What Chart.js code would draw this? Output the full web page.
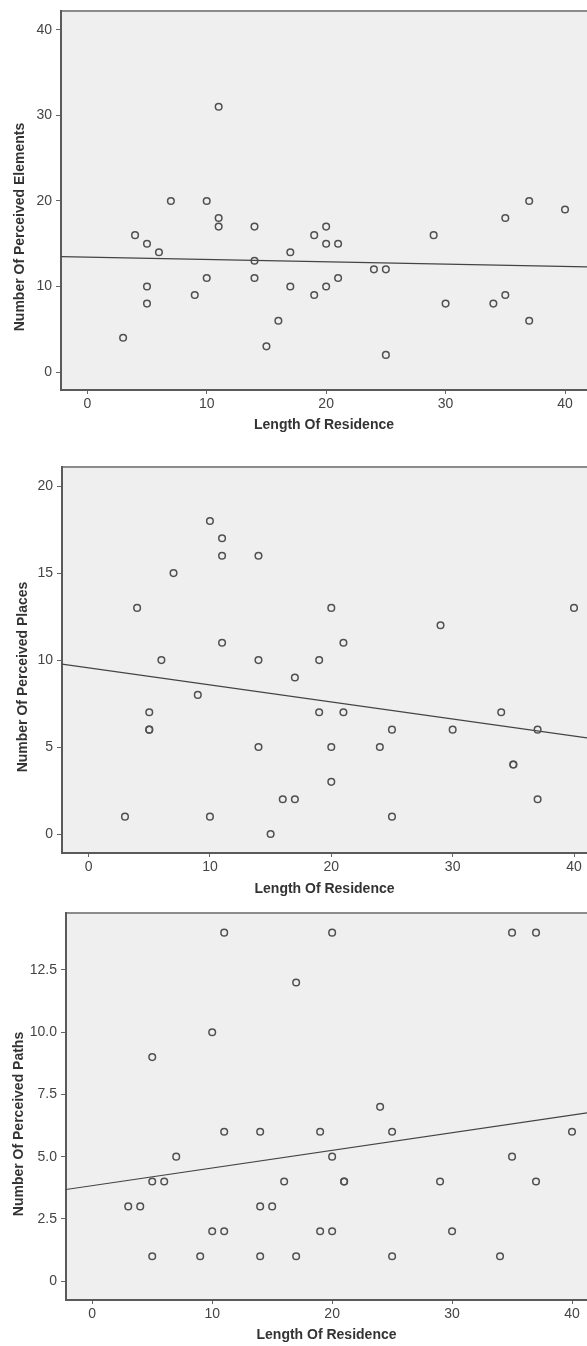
<!DOCTYPE html>
<html>
<head>
<meta charset="utf-8">
<script src="https://cdn.jsdelivr.net/npm/chart.js@4/dist/chart.umd.min.js"></script>
<style>
  html, body { margin: 0; padding: 0; background: #fff; }
  body { width: 587px; height: 1346px; position: relative; overflow: hidden; }
  canvas { position: absolute; left: 0; }
</style>
</head>
<body>
<canvas id="c1" width="587" height="440" style="top:0px"></canvas>
<canvas id="c2" width="587" height="460" style="top:440px"></canvas>
<canvas id="c3" width="587" height="446" style="top:900px"></canvas>
<script>
// ---- data ----
const lengthOfResidence = [3,4,5,5,5,6,7,9,10,10,11,11,11,14,14,14,15,16,17,17,19,19,20,20,20,21,21,24,25,25,29,30,34,35,35,37,37,40];
const perceivedElements = [4,16,15,10,8,14,20,9,20,11,31,18,17,17,13,11,3,6,14,10,16,9,17,15,10,15,11,12,12,2,16,8,8,18,9,20,6,19];
const perceivedPlaces   = [1,13,7,6,6,10,15,8,18,1,17,16,11,16,10,5,0,2,2,9,10,7,13,5,3,11,7,5,6,1,12,6,7,4,4,6,2,13];
const perceivedPaths    = [3,3,9,4,1,4,5,1,10,2,14,6,2,6,3,1,3,4,12,1,6,2,14,5,2,4,4,7,6,1,4,2,1,14,5,14,4,6];

// fit lines (end points)
const fitElementsX = [-2.2, 41.84];
const fitElementsY = [13.5, 12.3];
const fitPlacesX   = [-2.19, 41.07];
const fitPlacesY   = [9.77, 5.53];
const fitPathsX    = [-2.19, 41.25];
const fitPathsY    = [3.68, 6.76];

// ticks
const xTickValues = [0, 10, 20, 30, 40];
const xTickLabels = ['0', '10', '20', '30', '40'];
const elementsTickValues = [0, 10, 20, 30, 40];
const elementsTickLabels = ['0', '10', '20', '30', '40'];
const placesTickValues = [0, 5, 10, 15, 20];
const placesTickLabels = ['0', '5', '10', '15', '20'];
const pathsTickValues = [0, 2.5, 5, 7.5, 10, 12.5];
const pathsTickLabels = ['0', '2.5', '5.0', '7.5', '10.0', '12.5'];

const xTitle = 'Length Of Residence';

// ---- drawing ----
const FONT = "'Liberation Sans', Arial, Helvetica, sans-serif";

const framePlugin = {
  id: 'frame',
  beforeDraw(chart) {
    const { ctx, chartArea: a } = chart;
    ctx.save();
    ctx.fillStyle = '#efefef';
    ctx.fillRect(a.left, a.top, a.right - a.left, a.bottom - a.top);
    ctx.strokeStyle = '#8c8c8c';
    ctx.lineWidth = 2;
    ctx.beginPath();
    ctx.moveTo(a.left, a.top);
    ctx.lineTo(a.right, a.top);
    ctx.stroke();
    ctx.restore();
  },
  afterDraw(chart, args, opts) {
    const ctx = chart.ctx;
    ctx.save();
    ctx.translate(opts.x, opts.y);
    ctx.rotate(-Math.PI / 2);
    ctx.font = 'bold 14px ' + FONT;
    ctx.fillStyle = '#333';
    ctx.textAlign = 'center';
    ctx.textBaseline = 'middle';
    ctx.fillText(opts.text, 0, 0);
    ctx.restore();
  }
};

function pts(xs, ys) { return xs.map((x, i) => ({ x: x, y: ys[i] })); }

function makeChart(id, cfg) {
  new Chart(document.getElementById(id), {
    type: 'scatter',
    data: {
      datasets: [
        {
          data: pts(lengthOfResidence, cfg.ys),
          pointStyle: 'circle',
          pointRadius: 3.3,
          pointBorderWidth: 1.5,
          borderColor: '#505050',
          backgroundColor: 'rgba(0,0,0,0)',
          pointHoverRadius: 3.3
        },
        {
          data: pts(cfg.fitX, cfg.fitY),
          showLine: true,
          pointRadius: 0,
          borderColor: '#444',
          borderWidth: 1.2,
          fill: false
        }
      ]
    },
    plugins: [framePlugin],
    options: {
      responsive: false,
      animation: false,
      events: [],
      layout: { autoPadding: false, padding: { top: cfg.padTop, right: 0, bottom: 0, left: 0 } },
      plugins: {
        legend: { display: false },
        tooltip: { enabled: false },
        frame: { text: cfg.yTitle, x: cfg.titleX, y: cfg.titleY }
      },
      scales: {
        x: {
          type: 'linear',
          min: cfg.xMin, max: cfg.xMax,
          afterFit(s) { s.height = cfg.xHeight; s.paddingLeft = 0; s.paddingRight = 0; },
          afterBuildTicks(s) { s.ticks = xTickValues.map(v => ({ value: v })); },
          ticks: {
            font: { family: FONT, size: 14 },
            color: '#444',
            padding: 2,
            maxRotation: 0,
            callback: (v, i) => xTickLabels[i]
          },
          grid: { drawOnChartArea: false, drawTicks: true, tickLength: 4, color: '#666', lineWidth: 1 },
          border: { display: true, color: '#5a5a5a', width: 2 },
          title: {
            display: true, text: xTitle,
            font: { family: FONT, size: 14, weight: 'bold' },
            color: '#333',
            padding: { top: 0, bottom: cfg.xTitlePad }
          }
        },
        y: {
          type: 'linear',
          min: cfg.yMin, max: cfg.yMax,
          afterFit(s) { s.width = cfg.yWidth; s.paddingTop = 0; s.paddingBottom = 0; },
          afterBuildTicks(s) { s.ticks = cfg.yTicks.map(v => ({ value: v })); },
          ticks: {
            font: { family: FONT, size: 14 },
            color: '#444',
            padding: 4,
            callback: (v, i) => cfg.yLabels[i]
          },
          grid: { drawOnChartArea: false, drawTicks: true, tickLength: 5, color: '#666', lineWidth: 1 },
          border: { display: true, color: '#5a5a5a', width: 2 },
          title: { display: false }
        }
      }
    }
  });
}

makeChart('c1', {
  ys: perceivedElements, fitX: fitElementsX, fitY: fitElementsY,
  yTicks: elementsTickValues, yLabels: elementsTickLabels,
  yTitle: 'Number Of Perceived Elements', titleX: 20, titleY: 227,
  xMin: -2.2, xMax: 41.84, yMin: -2.1, yMax: 42.2,
  padTop: 11, yWidth: 61, xHeight: 50, xTitlePad: 6.5
});
makeChart('c2', {
  ys: perceivedPlaces, fitX: fitPlacesX, fitY: fitPlacesY,
  yTicks: placesTickValues, yLabels: placesTickLabels,
  yTitle: 'Number Of Perceived Places', titleX: 23.5, titleY: 237,
  xMin: -2.19, xMax: 41.07, yMin: -1.09, yMax: 21.1,
  padTop: 27, yWidth: 62, xHeight: 47, xTitlePad: 2.5
});
makeChart('c3', {
  ys: perceivedPaths, fitX: fitPathsX, fitY: fitPathsY,
  yTicks: pathsTickValues, yLabels: pathsTickLabels,
  yTitle: 'Number Of Perceived Paths', titleX: 19, titleY: 224,
  xMin: -2.19, xMax: 41.25, yMin: -0.76, yMax: 14.79,
  padTop: 13, yWidth: 66, xHeight: 46, xTitlePad: 2.5
});
</script>
</body>
</html>
